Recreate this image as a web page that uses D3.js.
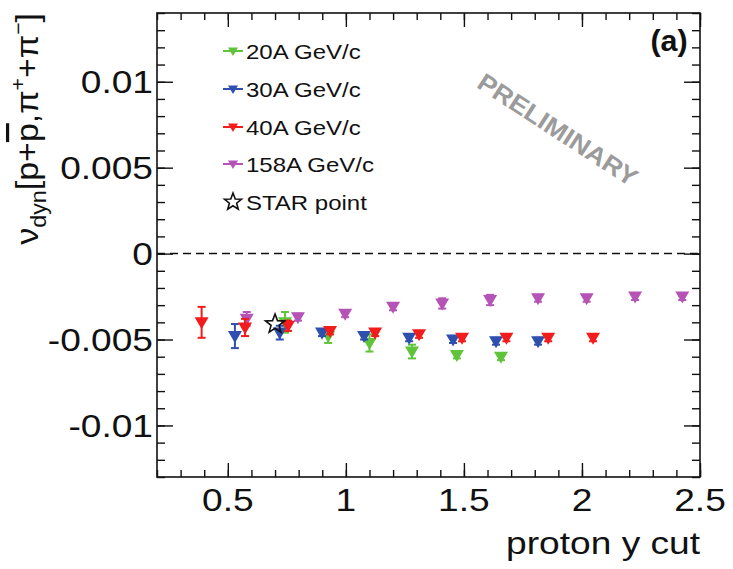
<!DOCTYPE html>
<html><head><meta charset="utf-8">
<script src="https://cdn.jsdelivr.net/npm/d3@7"></script>
<style>body{margin:0;background:#fff}svg{display:block}text{font-family:"Liberation Sans",Arial,sans-serif}</style>
</head><body><svg id="c" width="733" height="569"></svg>
<script>
// ---- data ----
const s20x  = [0.742, 0.925, 1.10, 1.28, 1.47, 1.657];
const s20y  = [-0.0040, -0.0048, -0.0052, -0.0057, -0.0059, -0.0060];
const s20e  = [0.0006, 0.0004, 0.0005, 0.0004, 0.0002, 0.0002];
const s30x  = [0.530, 0.720, 0.899, 1.077, 1.268, 1.454, 1.636, 1.814];
const s30y  = [-0.0048, -0.0046, -0.0046, -0.0048, -0.0049, -0.0050, -0.0051, -0.0051];
const s30e  = [0.0007, 0.0004, 0.0002, 0.0002, 0.0002, 0.0002, 0.0002, 0.0002];
const s40x  = [0.389, 0.573, 0.755, 0.933, 1.124, 1.310, 1.492, 1.680, 1.857, 2.047];
const s40y  = [-0.0040, -0.0043, -0.0042, -0.0045, -0.0046, -0.0047, -0.0049, -0.0049, -0.0049, -0.0049];
const s40e  = [0.0009, 0.0005, 0.0003, 0.0002, 0.0002, 0.0002, 0.0002, 0.0002, 0.0002, 0.0002];
const s158x = [0.580, 0.797, 0.997, 1.200, 1.408, 1.611, 1.814, 2.020, 2.225, 2.425];
const s158y = [-0.0038, -0.0037, -0.0035, -0.0031, -0.0029, -0.0027, -0.0026, -0.0026, -0.0025, -0.0025];
const s158e = [0.0004, 0.0002, 0.0002, 0.0002, 0.0003, 0.0003, 0.0002, 0.0002, 0.0002, 0.0002];
const starX = [0.70];
const starY = [-0.0041];
const seriesNames = ["20A GeV/c", "30A GeV/c", "40A GeV/c", "158A GeV/c"];
const seriesColors = ["#5fc43a", "#2f4fae", "#f21c1c", "#b653b6"];
const xTickLabels = ["0.5", "1", "1.5", "2", "2.5"];
const xTickVals = [0.5, 1, 1.5, 2, 2.5];
const yTickLabels = ["0.01", "0.005", "0", "-0.005", "-0.01"];
const yTickVals = [0.01, 0.005, 0, -0.005, -0.01];
const xLabel = "proton y cut";
const starLabel = "STAR point";

// ---- layout ----
const L = 157, R = 700, T = 13, B = 477;
const SX = 1.16; // horizontal font stretch
const svg = d3.select("#c");
const x = d3.scaleLinear().domain([0.2, 2.5]).range([L, R]);
const y = d3.scaleLinear().domain([-0.013, 0.014]).range([B, T]);

const xMinor = d3.range(2, 26).map(v => +(v / 10).toFixed(1));
const yMinor = d3.range(-13, 15).map(v => +(v / 1000).toFixed(3));

function axisG(axis, tr) {
  const g = svg.append("g").attr("transform", tr).call(axis);
  g.select(".domain").remove();
  g.selectAll("line").attr("stroke", "#111").attr("stroke-width", 1.4);
  g.selectAll("text").remove();
  return g;
}
// inward ticks on all four sides
axisG(d3.axisBottom(x).tickValues(xMinor).tickSize(-7), `translate(0,${B})`);
axisG(d3.axisBottom(x).tickValues(xTickVals).tickSize(-14), `translate(0,${B})`);
axisG(d3.axisTop(x).tickValues(xMinor).tickSize(-7), `translate(0,${T})`);
axisG(d3.axisTop(x).tickValues(xTickVals).tickSize(-14), `translate(0,${T})`);
axisG(d3.axisLeft(y).tickValues(yMinor).tickSize(-8), `translate(${L},0)`);
axisG(d3.axisLeft(y).tickValues(yTickVals).tickSize(-16), `translate(${L},0)`);
axisG(d3.axisRight(y).tickValues(yMinor).tickSize(-8), `translate(${R},0)`);
axisG(d3.axisRight(y).tickValues(yTickVals).tickSize(-16), `translate(${R},0)`);

svg.append("rect").attr("x", L).attr("y", T).attr("width", R - L).attr("height", B - T)
  .attr("fill", "none").attr("stroke", "#111").attr("stroke-width", 1.6);

// zero line
svg.append("line").attr("x1", L).attr("x2", R).attr("y1", y(0)).attr("y2", y(0))
  .attr("stroke", "#111").attr("stroke-width", 1.5).attr("stroke-dasharray", "8,5");

function stext(px, py, str, size, anchor, opts = {}) {
  const g = svg.append("g").attr("transform", `translate(${px},${py}) ${opts.rot ? "rotate(" + opts.rot + ")" : ""} scale(${opts.sx || SX},1)`);
  const t = g.append("text").attr("x", 0).attr("y", 0).attr("font-size", size)
    .attr("text-anchor", anchor).attr("fill", opts.fill || "#111").text(str);
  if (opts.bold) t.attr("font-weight", "bold");
  return t;
}

// tick labels
xTickVals.forEach((v, i) => stext(x(v), 511, xTickLabels[i], 32, "middle"));
yTickVals.forEach((v, i) => stext(153, y(v) + 11.5, yTickLabels[i], 32, "end"));
stext(R, 554, xLabel, 32, "end");

// y title
{
  const g = svg.append("g").attr("transform", `translate(38,${T}) rotate(-90) scale(1.06,1)`);
  const t = g.append("text").attr("text-anchor", "end").attr("font-size", 32).attr("fill", "#111");
  t.append("tspan").text("ν");
  t.append("tspan").attr("font-size", 22).attr("dy", 8).text("dyn");
  t.append("tspan").attr("dy", -8).text("[p+");
  t.append("tspan").style("text-decoration", "overline").text("p");
  t.append("tspan").text(",π");
  t.append("tspan").attr("font-size", 20).attr("dy", -13).text("+");
  t.append("tspan").attr("dy", 13).text("+π");
  t.append("tspan").attr("font-size", 20).attr("dy", -13).text("−");
  t.append("tspan").attr("dy", 13).text("]");
}

// (a) and PRELIMINARY
stext(669, 51, "(a)", 29, "middle", { bold: true, sx: 1.05 });
stext(553, 137, "PRELIMINARY", 25, "middle", { bold: true, rot: 33, sx: 1.08, fill: "#9b9b9b" });

// markers
const tri = s => `M${-s},${-s * 0.72} L${s},${-s * 0.72} L0,${s} Z`;
function starPath(ro, ri) {
  const pts = [];
  for (let k = 0; k < 10; k++) {
    const a = -Math.PI / 2 + k * Math.PI / 5, r = k % 2 ? ri : ro;
    pts.push([r * Math.cos(a), r * Math.sin(a)]);
  }
  return "M" + pts.map(p => p.join(",")).join("L") + "Z";
}

const allSeries = [[s20x, s20y, s20e], [s30x, s30y, s30e], [s40x, s40y, s40e], [s158x, s158y, s158e]];
const order = [3, 0, 1, 2];
order.forEach(si => {
  const [xs, ys, es] = allSeries[si];
  const col = seriesColors[si];
  const g = svg.append("g");
  xs.forEach((xv, i) => {
    const cx = x(xv), y1 = y(ys[i] + es[i]), y2 = y(ys[i] - es[i]);
    g.append("line").attr("x1", cx).attr("x2", cx).attr("y1", y1).attr("y2", y2).attr("stroke", col).attr("stroke-width", 2);
    g.append("line").attr("x1", cx - 4).attr("x2", cx + 4).attr("y1", y1).attr("y2", y1).attr("stroke", col).attr("stroke-width", 2);
    g.append("line").attr("x1", cx - 4).attr("x2", cx + 4).attr("y1", y2).attr("y2", y2).attr("stroke", col).attr("stroke-width", 2);
    g.append("path").attr("d", tri(7)).attr("transform", `translate(${cx},${y(ys[i])})`).attr("fill", col);
  });
});
starX.forEach((xv, i) => {
  svg.append("path").attr("d", starPath(10, 4.2)).attr("transform", `translate(${x(xv)},${y(starY[i])})`)
    .attr("fill", "none").attr("stroke", "#111").attr("stroke-width", 1.6);
});

// legend
const legY = [51, 89, 127, 164, 202];
seriesNames.forEach((n, i) => {
  const cy = legY[i];
  svg.append("line").attr("x1", 223).attr("x2", 243).attr("y1", cy).attr("y2", cy).attr("stroke", seriesColors[i]).attr("stroke-width", 2);
  svg.append("path").attr("d", tri(5)).attr("transform", `translate(233,${cy})`).attr("fill", seriesColors[i]);
  stext(246, cy + 7.5, n, 20, "start", { sx: 1.2 });
});
svg.append("path").attr("d", starPath(9, 3.8)).attr("transform", `translate(233,${legY[4]})`)
  .attr("fill", "none").attr("stroke", "#111").attr("stroke-width", 1.6);
stext(246, legY[4] + 7.5, starLabel, 20, "start", { sx: 1.2 });
</script></body></html>
